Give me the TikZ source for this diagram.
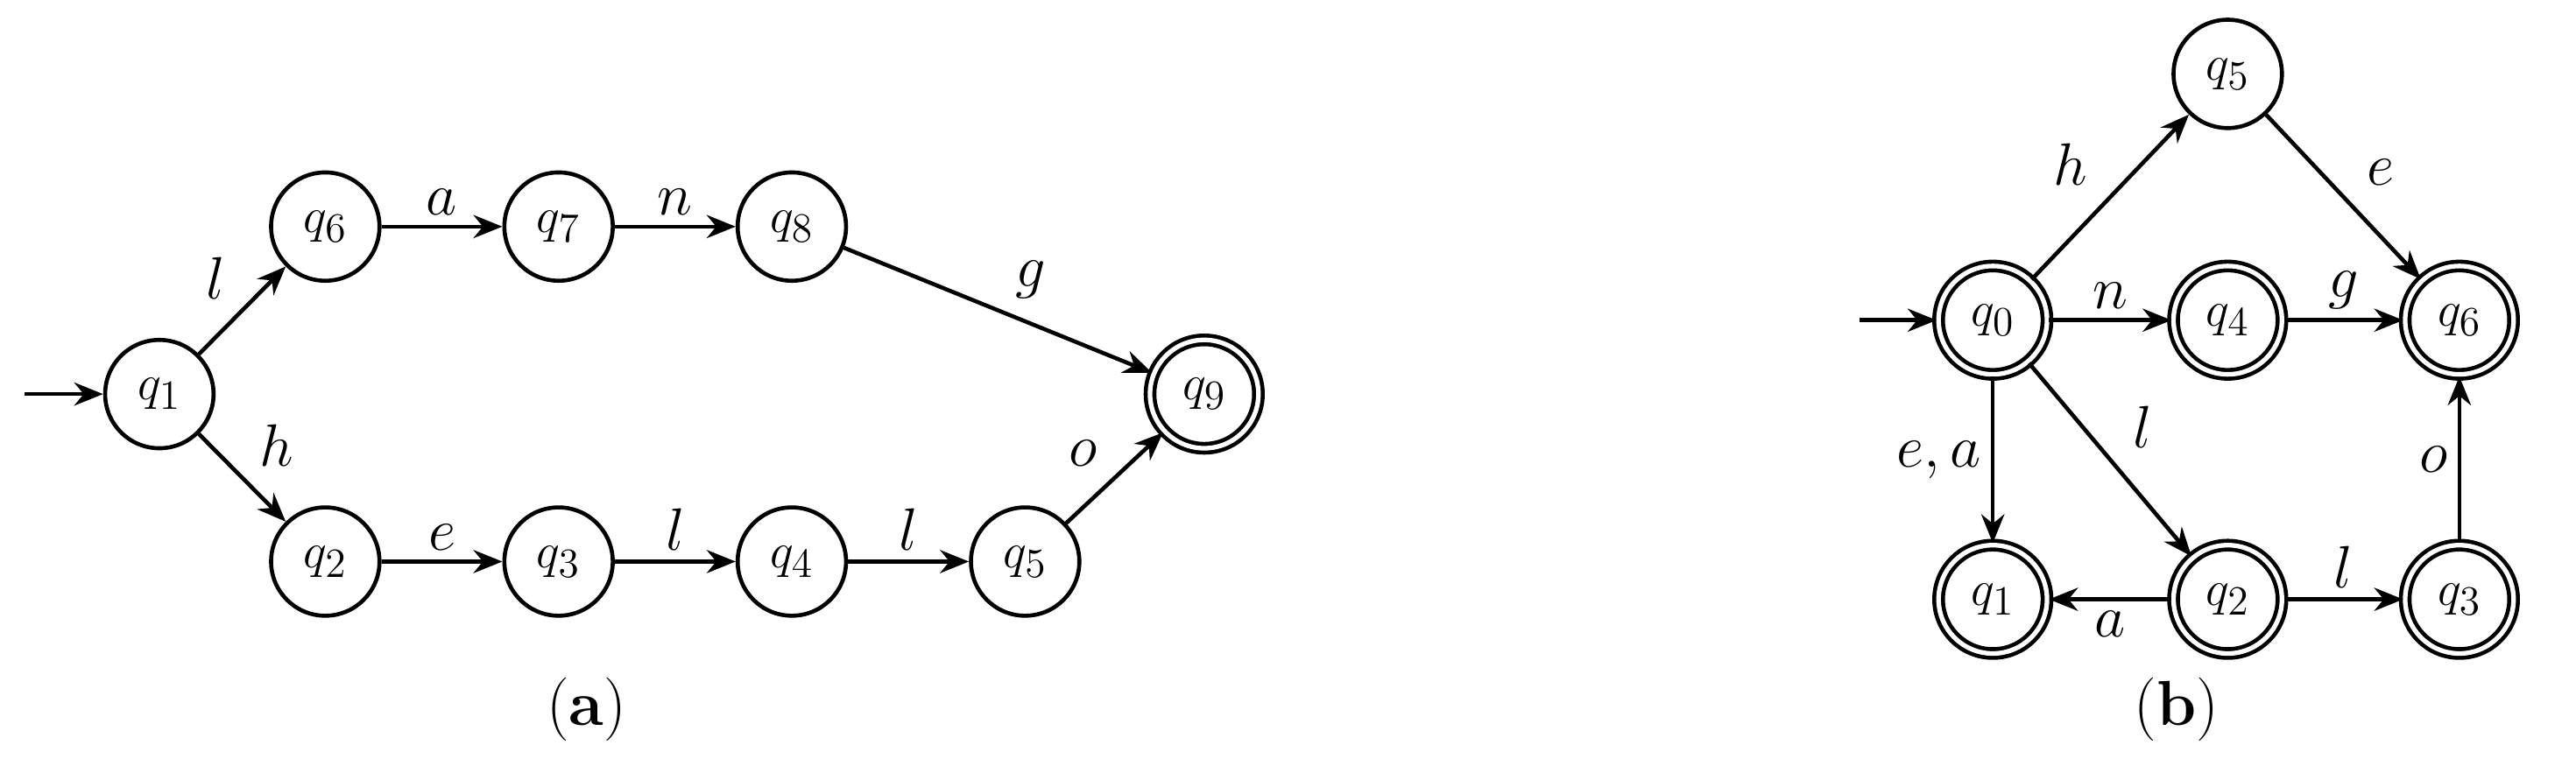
\documentclass[tikz,border=0pt]{standalone}
\usetikzlibrary{arrows.meta}
\begin{document}
\begin{tikzpicture}[x=0.02cm,y=-0.02cm,
  st/.style={circle,draw,line width=1.4pt,minimum size=1.32cm,inner sep=0pt,font=\fontsize{19}{22}\selectfont},
  acc/.style={st,double,double distance=1.6pt},
  tr/.style={line width=1.4pt,-{Stealth[length=10pt,width=8pt]}},
  lb/.style={font=\fontsize{22}{25}\selectfont}]
\useasboundingbox (0,0) rectangle (1568,462);
% (a)
\node[st] (a1) at (97,240) {$q_1$};
\node[st] (a6) at (198,138) {$q_6$};
\node[st] (a7) at (340,138) {$q_7$};
\node[st] (a8) at (482,138) {$q_8$};
\node[acc] (a9) at (733,240) {$q_9$};
\node[st] (a2) at (198,342) {$q_2$};
\node[st] (a3) at (340,342) {$q_3$};
\node[st] (a4) at (482,342) {$q_4$};
\node[st] (a5) at (624,342) {$q_5$};
\coordinate (as) at (15,240);
\draw[tr] (as) -- (a1);
\draw[tr] (a1) -- node[lb,above left,xshift=-2pt] {$l$} (a6);
\draw[tr] (a1) -- node[lb,above right,xshift=2pt] {$h$} (a2);
\draw[tr] (a6) -- node[lb,above] {$a$} (a7);
\draw[tr] (a7) -- node[lb,above] {$n$} (a8);
\draw[tr] (a8) -- node[lb,above right,xshift=2pt] {$g$} (a9);
\draw[tr] (a2) -- node[lb,above] {$e$} (a3);
\draw[tr] (a3) -- node[lb,above] {$l$} (a4);
\draw[tr] (a4) -- node[lb,above] {$l$} (a5);
\draw[tr] (a5) -- node[lb,above left,xshift=-2pt] {$o$} (a9);
\node[lb] (la) at (357,432) {(\textbf{a})};
% (b)
\node[acc] (b0) at (1213,195) {$q_0$};
\node[st] (b5) at (1356,45) {$q_5$};
\node[acc] (b4) at (1356,195) {$q_4$};
\node[acc] (b6) at (1497,195) {$q_6$};
\node[acc] (b1) at (1213,365) {$q_1$};
\node[acc] (b2) at (1356,365) {$q_2$};
\node[acc] (b3) at (1497,365) {$q_3$};
\coordinate (bs) at (1132,195);
\draw[tr] (bs) -- (b0);
\draw[tr] (b0) -- node[lb,above left,xshift=-4pt] {$h$} (b5);
\draw[tr] (b5) -- node[lb,above right,xshift=4pt] {$e$} (b6);
\draw[tr] (b0) -- node[lb,above] {$n$} (b4);
\draw[tr] (b4) -- node[lb,above] {$g$} (b6);
\draw[tr] (b0) -- node[lb,above right,xshift=4pt] {$l$} (b2);
\draw[tr] (b0) -- node[lb,left] {$e,a$} (b1);
\draw[tr] (b2) -- node[lb,below] {$a$} (b1);
\draw[tr] (b2) -- node[lb,above] {$l$} (b3);
\draw[tr] (b3) -- node[lb,left] {$o$} (b6);
\node[lb] (lbb) at (1325,432) {(\textbf{b})};
\end{tikzpicture}
\end{document}
